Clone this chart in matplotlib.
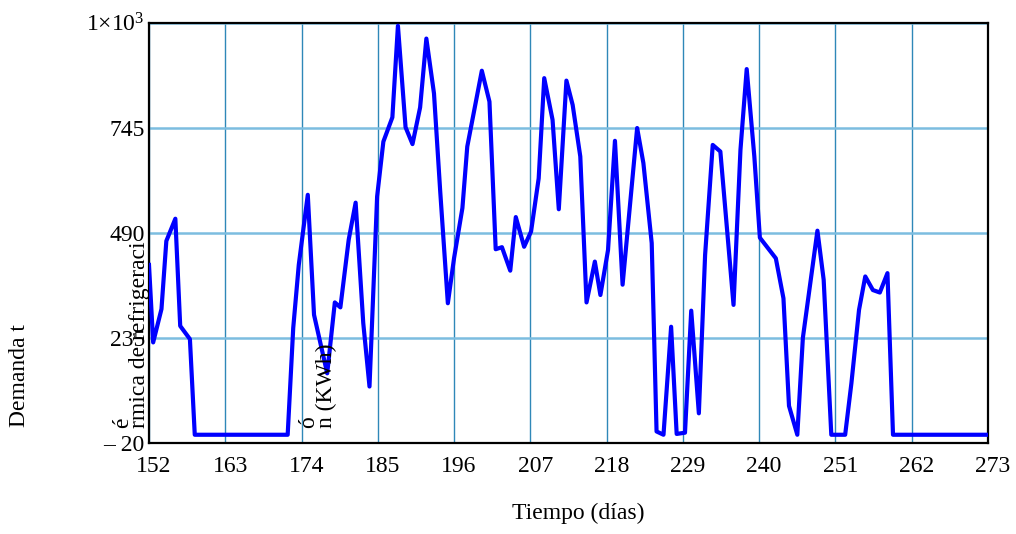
import matplotlib
matplotlib.use("Agg")
import matplotlib.pyplot as plt
import matplotlib.transforms as mtransforms

# ---- data ----
days = [152.0, 152.6, 153.8, 154.5, 155.8, 156.5, 157.9, 158.6,
        172.0, 172.8, 173.6, 174.9, 175.8, 177.7, 178.8, 179.6, 180.8, 181.8,
        182.9, 183.8, 184.9, 185.8, 187.1, 187.9, 189.0, 190.0, 191.1, 192.0,
        193.1, 194.0, 195.1, 196.0, 197.2, 197.9, 200.0, 201.1, 202.0, 202.9,
        204.1, 204.9, 206.1, 207.1, 208.2, 209.0, 210.2, 211.1, 212.2, 213.1,
        214.2, 215.1, 216.3, 217.1, 218.2, 219.2, 220.3, 221.3, 222.4, 223.3,
        224.5, 225.2, 226.2, 227.3, 228.1, 229.3, 230.2, 231.3, 232.2, 233.3,
        234.4, 236.3, 237.3, 238.2, 239.3, 240.1, 242.4, 243.5, 244.3, 245.5,
        246.3, 248.4, 249.3, 250.4, 252.4, 253.3, 254.4, 255.3, 256.4, 257.4,
        258.5, 259.3, 273.0]
demand = [412, 224, 305, 470, 524, 264, 232, 0,
          0, 259, 412, 582, 291, 149, 321, 309, 473, 563,
          271, 117, 578, 711, 770, 992, 746, 705, 794, 961,
          828, 590, 319, 429, 550, 699, 883, 808, 450, 455,
          398, 528, 456, 493, 622, 865, 764, 547, 859, 800,
          675, 321, 420, 339, 448, 713, 364, 545, 744, 659,
          465, 8, 0, 262, 2, 5, 301, 52, 436, 703,
          687, 315, 691, 887, 675, 478, 428, 331, 70, 0,
          235, 495, 376, 0, 0, 125, 303, 384, 351, 345,
          392, 0, 0]

xticks = [152, 163, 174, 185, 196, 207, 218, 229, 240, 251, 262, 273]
yticks = [-20, 235, 490, 745, 1000]
ytick_labels = ['\u2013 20', '235', '490', '745', r'$\mathregular{1{\times}10^{3}}$']

plt.rcParams['font.family'] = ['Liberation Serif', 'DejaVu Serif']
plt.rcParams['mathtext.fontset'] = 'custom'
plt.rcParams['mathtext.rm'] = 'Liberation Serif'

FS = 17
W, H = 1016, 534
fig = plt.figure(figsize=(W / 100, H / 100), dpi=100)
left, right, top, bottom = 149, 988, 22.5, 443
ax = fig.add_axes([left / W, 1 - bottom / H, (right - left) / W, (bottom - top) / H])

ax.plot(days, demand, color='#0000ff', lw=3.0, zorder=3)

ax.set_xlim(152, 273)
ax.set_ylim(-20, 1000)
ax.set_xticks(xticks)
ax.set_yticks(yticks)
ax.set_yticklabels(ytick_labels)
ax.tick_params(axis='both', length=0, labelsize=FS)
ax.tick_params(axis='x', pad=9)
ax.tick_params(axis='y', pad=3)

ax.grid(axis='x', color='#2f88b8', lw=1.0, zorder=1)
ax.grid(axis='y', color='#7cbde0', lw=1.8, zorder=1)
ax.set_axisbelow(True)
for s in ax.spines.values():
    s.set_color('black')
    s.set_linewidth(1.6)

offset = mtransforms.ScaledTranslation(5 / 100, 0, fig.dpi_scale_trans)
for lab in ax.get_xticklabels():
    lab.set_transform(lab.get_transform() + offset)


def px(x, y):
    return x / W, 1 - y / H


fig.text(*px(578, 513), 'Tiempo (días)', ha='center', va='center', fontsize=FS)
fig.text(*px(20, 376), 'Demanda t', rotation=90, ha='center', va='center', fontsize=FS)
fig.text(*px(123, 428), 'é', rotation=90, ha='center', va='bottom', fontsize=FS)
fig.text(*px(139.5, 428), 'rmica de refrigeraci', rotation=90, ha='center', va='bottom', fontsize=FS)
fig.text(*px(309, 428), 'ó', rotation=90, ha='center', va='bottom', fontsize=FS)
fig.text(*px(326, 428), 'n (KWh)', rotation=90, ha='center', va='bottom', fontsize=FS)

fig.savefig('out.png', dpi=100)
